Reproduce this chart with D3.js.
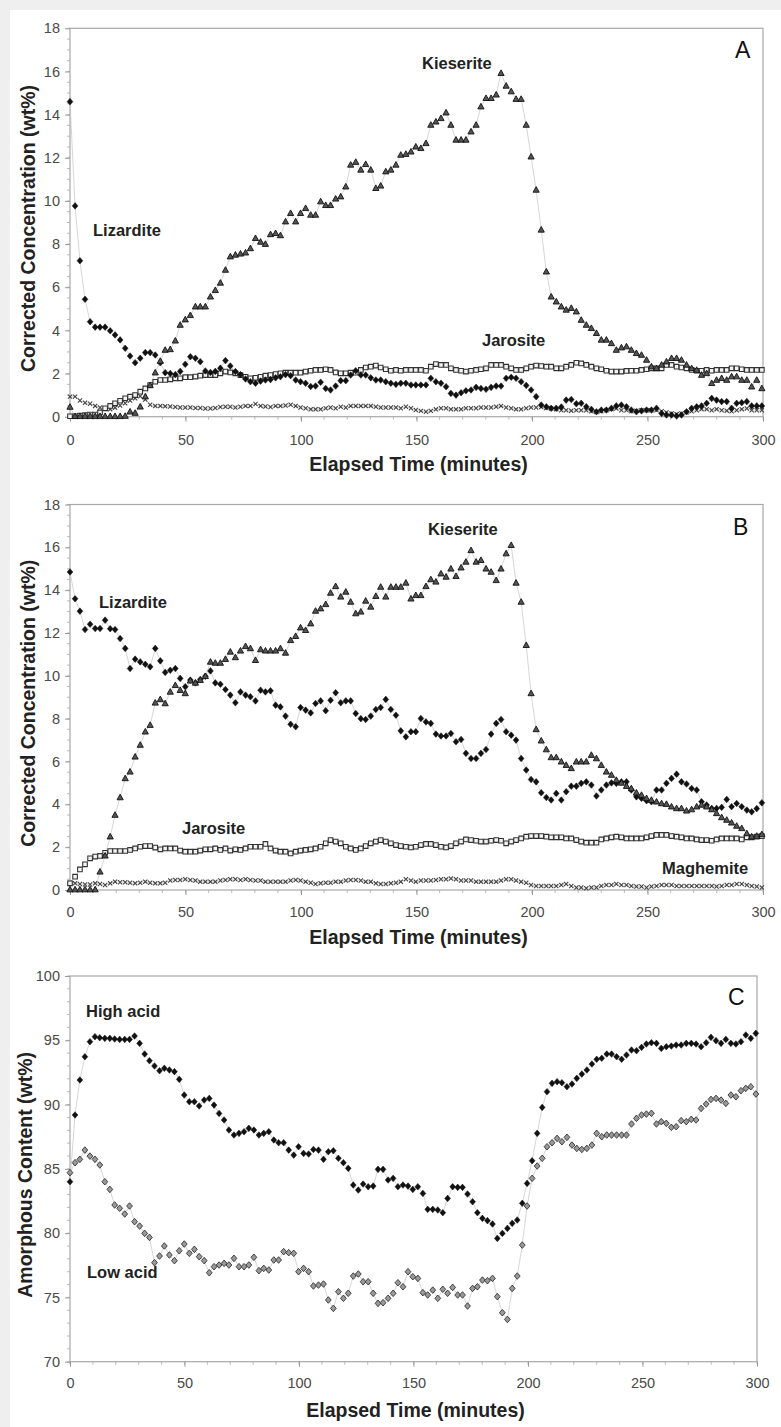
<!DOCTYPE html>
<html><head><meta charset="utf-8">
<script src="https://cdn.jsdelivr.net/npm/d3@7"></script>
<style>
body{margin:0;background:#efefef;}
svg{display:block;font-family:"Liberation Sans",Arial,sans-serif;}
</style>
</head><body>
<svg id="chart" width="781" height="1427"></svg>
<script>
// ---------------- DATA ----------------
const minutes = [0,2.2,4.3,6.5,8.7,10.9,13.0,15.2,17.4,19.5,21.7,23.9,26.0,28.2,30.4,32.6,34.7,36.9,39.1,41.2,
43.4,45.6,47.7,49.9,52.1,54.3,56.4,58.6,60.8,62.9,65.1,67.3,69.4,71.6,73.8,76.0,78.1,80.3,82.5,84.6,
86.8,89.0,91.1,93.3,95.5,97.7,99.8,102.0,104.2,106.3,108.5,110.7,112.8,115.0,117.2,119.4,121.5,123.7,125.9,128.0,
130.2,132.4,134.5,136.7,138.9,141.1,143.2,145.4,147.6,149.7,151.9,154.1,156.2,158.4,160.6,162.8,164.9,167.1,169.3,171.4,
173.6,175.8,177.9,180.1,182.3,184.5,186.6,188.8,191.0,193.1,195.3,197.5,199.6,201.8,204.0,206.2,208.3,210.5,212.7,214.8,
217.0,219.2,221.3,223.5,225.7,227.9,230.0,232.2,234.4,236.5,238.7,240.9,243.0,245.2,247.4,249.6,251.7,253.9,256.1,258.2,
260.4,262.6,264.7,266.9,269.1,271.3,273.4,275.6,277.8,279.9,282.1,284.3,286.4,288.6,290.8,293.0,295.1,297.3,299.5];

const xTickValues = [0,50,100,150,200,250,300];
const concTickValues = [0,2,4,6,8,10,12,14,16,18];
const amorphTickValues = [70,75,80,85,90,95,100];

// Panel A
const lizarditeA = [14.6,9.77,7.23,5.44,4.4,4.15,4.15,4.15,3.98,3.79,
3.56,3.17,2.81,2.5,2.71,2.97,2.97,2.86,2.5,2.04,
2.0,1.95,2.1,2.43,2.78,2.71,2.55,2.12,2.05,2.1,
2.25,2.6,2.35,2.09,1.95,1.75,1.62,1.55,1.65,1.7,
1.72,1.8,1.85,1.95,1.9,1.7,1.62,1.55,1.4,1.42,
1.6,1.31,1.24,1.42,1.67,1.67,1.93,2.13,1.93,1.93,
1.8,1.7,1.7,1.62,1.55,1.5,1.55,1.55,1.47,1.47,
1.47,1.47,1.78,1.62,1.55,1.39,1.08,1.0,1.11,1.2,
1.24,1.36,1.31,1.27,1.36,1.42,1.42,1.78,1.83,1.78,
1.62,1.45,1.24,0.93,0.54,0.46,0.39,0.39,0.45,0.77,
0.8,0.6,0.62,0.46,0.34,0.23,0.31,0.31,0.39,0.5,
0.54,0.46,0.31,0.23,0.27,0.31,0.31,0.39,0.15,0.08,
0.08,0.03,0.08,0.23,0.39,0.46,0.5,0.62,0.85,0.77,
0.7,0.7,0.39,0.62,0.65,0.7,0.5,0.5,0.5];
const kieseriteA = [0.45,0.02,0.02,0.02,0.02,0.02,0.02,0.02,0.02,0.02,
0.02,0.03,0.23,0.17,0.46,0.93,1.45,2.04,2.58,3.09,
3.12,3.52,4.25,4.5,4.7,5.1,5.1,5.1,5.56,5.86,
6.2,6.8,7.42,7.5,7.55,7.6,7.8,8.27,8.1,8.0,
8.45,8.5,8.4,9.04,9.43,9.04,9.43,9.66,9.35,9.35,
9.97,9.8,9.8,10.1,10.2,10.66,11.67,11.8,11.44,11.7,
11.44,10.59,10.7,11.36,11.44,11.67,12.13,12.17,12.28,12.51,
12.44,12.67,13.52,13.67,13.83,14.09,13.52,12.83,12.83,12.83,
13.21,13.52,14.37,14.76,14.76,14.92,15.92,15.33,15.07,14.72,
14.72,13.52,12.05,10.51,8.66,6.72,5.56,5.33,5.1,4.95,
5.03,4.87,4.48,4.25,4.1,3.87,3.56,3.56,3.40,3.09,
3.2,3.25,3.09,2.94,2.86,2.63,2.32,2.24,2.4,2.55,
2.71,2.71,2.63,2.4,2.24,2.16,1.93,2.01,1.55,1.7,
1.78,1.7,1.86,1.86,1.7,1.7,1.39,1.7,1.31];
const jarositeA = [0.02,0.02,0.05,0.07,0.1,0.1,0.2,0.39,0.5,0.62,
0.74,0.85,0.93,1.0,1.16,1.31,1.47,1.62,1.7,1.7,
1.73,1.78,1.78,1.83,1.83,1.86,1.9,1.93,1.93,1.93,
2.01,2.09,2.05,2.01,1.93,1.85,1.78,1.8,1.85,1.9,
1.93,1.98,2.01,2.04,2.04,2.04,2.04,2.09,2.13,2.17,
2.17,2.2,2.17,2.05,2.01,2.01,2.04,2.04,2.17,2.28,
2.32,2.37,2.28,2.2,2.13,2.17,2.13,2.17,2.17,2.17,
2.17,2.13,2.32,2.44,2.4,2.4,2.24,2.17,2.13,2.09,
2.13,2.17,2.2,2.24,2.4,2.4,2.4,2.32,2.24,2.17,
2.17,2.24,2.32,2.37,2.35,2.32,2.32,2.24,2.24,2.32,
2.4,2.5,2.47,2.4,2.32,2.24,2.2,2.13,2.09,2.09,
2.09,2.12,2.13,2.13,2.17,2.2,2.24,2.24,2.24,2.4,
2.4,2.32,2.28,2.24,2.17,2.13,2.13,2.17,2.13,2.17,
2.17,2.17,2.24,2.24,2.2,2.17,2.17,2.17,2.17];
const maghemiteA = [0.93,0.93,0.75,0.65,0.6,0.5,0.43,0.38,0.35,0.42,
0.52,0.62,0.75,0.85,0.95,0.8,0.55,0.5,0.5,0.48,
0.47,0.45,0.43,0.43,0.43,0.4,0.4,0.38,0.38,0.4,
0.45,0.46,0.46,0.43,0.46,0.5,0.5,0.59,0.5,0.47,
0.45,0.5,0.5,0.52,0.55,0.5,0.43,0.39,0.34,0.34,
0.34,0.39,0.43,0.39,0.46,0.43,0.5,0.5,0.5,0.5,
0.5,0.46,0.43,0.43,0.43,0.43,0.39,0.46,0.39,0.31,
0.27,0.23,0.27,0.34,0.39,0.39,0.34,0.34,0.34,0.39,
0.39,0.39,0.43,0.43,0.43,0.46,0.5,0.43,0.39,0.34,
0.34,0.39,0.43,0.43,0.45,0.4,0.38,0.35,0.3,0.3,
0.28,0.3,0.3,0.3,0.25,0.22,0.25,0.3,0.35,0.38,
0.3,0.3,0.25,0.28,0.3,0.3,0.3,0.3,0.25,0.2,
0.15,0.12,0.15,0.2,0.25,0.3,0.35,0.35,0.3,0.35,
0.3,0.28,0.25,0.3,0.35,0.38,0.3,0.3,0.3];

// Panel B
const lizarditeB = [14.85,13.6,13.02,12.16,12.41,12.21,12.21,12.6,12.2,12.16,
11.74,11.28,10.34,10.78,10.65,10.54,10.42,11.28,10.7,10.16,
10.26,10.34,9.88,9.49,9.8,9.67,9.83,9.98,10.23,9.67,
9.61,9.36,9.1,8.74,9.25,9.1,9.02,8.83,9.33,9.25,
9.3,8.63,8.55,8.12,7.74,7.62,8.52,8.4,8.27,8.71,
8.83,8.37,8.86,9.21,8.74,8.83,8.83,8.24,8.0,7.96,
8.12,8.43,8.52,8.9,8.43,8.16,7.43,7.15,7.39,7.39,
8.01,7.85,7.78,7.28,7.19,7.19,7.31,6.92,7.03,6.38,
6.14,6.14,6.38,6.56,7.28,7.78,7.96,7.39,7.23,7.0,
6.14,5.6,5.16,5.05,4.54,4.32,4.2,4.51,4.2,4.59,
4.85,4.85,4.98,5.05,4.9,4.39,4.67,4.9,5.0,4.98,
5.05,5.05,4.67,4.35,4.28,4.17,4.12,4.67,4.67,4.98,
5.21,5.41,5.05,4.95,4.74,4.67,4.12,3.97,3.81,3.81,
3.86,4.23,3.89,4.04,3.89,3.73,3.65,3.8,4.07];
const kieseriteB = [0.02,0.02,0.02,0.02,0.02,0.02,0.85,1.6,2.49,3.5,
4.32,5.21,5.52,6.22,6.77,7.39,7.7,8.74,8.9,8.71,
9.25,9.56,9.33,9.18,9.77,9.67,9.8,9.98,10.65,10.6,
10.6,10.78,11.12,10.86,11.17,11.38,11.28,10.73,11.23,11.17,
11.17,11.17,11.28,11.07,11.66,11.85,12.25,12.13,12.44,13.03,
13.14,13.34,13.87,14.18,13.69,13.92,13.45,12.91,12.99,13.5,
13.22,13.72,14.15,13.69,14.15,14.15,14.15,14.34,13.6,13.76,
13.76,14.18,14.5,14.39,14.77,14.62,15.0,14.65,15.05,15.32,
15.86,15.32,15.4,15.0,14.85,14.46,15.0,15.71,16.1,14.34,
13.45,11.43,9.18,7.5,6.97,6.56,6.19,6.19,5.99,5.83,
5.68,5.99,5.99,5.99,6.3,6.14,5.83,5.52,5.37,5.13,
5.0,4.85,4.74,4.54,4.43,4.28,4.2,4.12,4.04,4.01,
3.89,3.81,3.81,3.7,3.76,3.89,3.97,3.89,3.76,3.58,
3.39,3.27,3.14,2.99,2.88,2.64,2.49,2.52,2.6];
const jarositeB = [0.31,0.62,0.96,1.2,1.48,1.56,1.59,1.74,1.82,1.82,
1.82,1.82,1.87,1.94,2.02,2.05,2.05,1.98,1.9,1.94,
1.94,1.94,1.84,1.79,1.79,1.79,1.84,1.9,1.9,1.94,
1.87,1.94,1.84,1.9,1.87,1.94,2.02,2.02,2.02,2.15,
1.94,1.84,1.79,1.79,1.71,1.79,1.84,1.87,1.9,1.94,
2.02,2.18,2.33,2.26,2.18,2.02,1.94,1.87,1.94,2.05,
2.18,2.26,2.33,2.26,2.18,2.1,2.05,2.02,1.99,2.02,
2.1,2.15,2.15,2.1,2.02,1.99,2.05,2.18,2.26,2.36,
2.33,2.3,2.26,2.26,2.3,2.33,2.3,2.18,2.26,2.33,
2.41,2.49,2.52,2.52,2.52,2.49,2.46,2.46,2.46,2.41,
2.41,2.33,2.26,2.21,2.21,2.21,2.36,2.41,2.46,2.49,
2.46,2.41,2.41,2.41,2.41,2.46,2.52,2.57,2.57,2.57,
2.52,2.49,2.46,2.41,2.41,2.36,2.33,2.33,2.3,2.36,
2.41,2.41,2.41,2.41,2.36,2.46,2.46,2.49,2.52];
const maghemiteB = [0.34,0.31,0.28,0.26,0.26,0.31,0.28,0.23,0.31,0.39,
0.36,0.36,0.34,0.31,0.34,0.39,0.34,0.31,0.31,0.34,
0.44,0.47,0.47,0.5,0.47,0.44,0.39,0.39,0.39,0.39,
0.44,0.47,0.5,0.5,0.47,0.5,0.47,0.44,0.44,0.39,
0.39,0.39,0.39,0.39,0.44,0.47,0.44,0.39,0.34,0.28,
0.31,0.34,0.34,0.39,0.39,0.44,0.47,0.47,0.44,0.39,
0.39,0.31,0.28,0.28,0.31,0.34,0.39,0.5,0.44,0.39,
0.44,0.44,0.44,0.47,0.5,0.5,0.54,0.5,0.44,0.44,
0.44,0.39,0.39,0.39,0.39,0.39,0.44,0.5,0.5,0.44,
0.39,0.34,0.23,0.19,0.19,0.19,0.19,0.19,0.23,0.28,
0.19,0.12,0.12,0.08,0.12,0.12,0.19,0.23,0.23,0.28,
0.23,0.23,0.19,0.16,0.16,0.12,0.16,0.19,0.23,0.23,
0.23,0.19,0.19,0.19,0.19,0.19,0.19,0.19,0.19,0.16,
0.19,0.23,0.23,0.28,0.28,0.23,0.19,0.16,0.12];

// Panel C
const highAcid = [84.0,89.19,91.91,93.72,94.89,95.28,95.2,95.15,95.15,95.1,
95.07,95.07,95.07,95.33,94.76,93.93,93.41,93.0,92.63,92.82,
92.69,92.56,91.96,90.74,90.22,90.22,89.89,90.35,90.48,89.96,
89.31,88.8,88.02,87.63,87.76,87.89,88.15,88.02,87.63,87.76,
87.89,87.24,87.03,87.03,86.46,86.07,86.72,86.2,86.15,86.51,
86.46,85.74,86.33,86.41,85.82,85.48,85.04,83.74,83.35,83.82,
83.61,83.66,84.96,84.96,84.13,84.26,83.61,83.74,83.66,83.4,
83.61,83.09,81.85,81.85,81.8,81.59,82.7,83.61,83.56,83.56,
83.04,82.44,81.59,81.15,80.97,80.71,79.59,79.98,80.37,80.76,
81.02,82.32,83.87,85.63,87.76,89.78,91.0,91.65,91.78,91.7,
91.39,91.6,92.04,92.37,92.69,93.15,93.52,93.6,93.93,93.93,
93.72,93.52,93.85,94.24,94.19,94.45,94.71,94.81,94.76,94.37,
94.5,94.55,94.63,94.63,94.76,94.76,94.71,94.5,94.81,95.23,
94.97,94.76,95.07,94.76,94.71,94.89,95.41,95.15,95.54];
const lowAcid = [84.7,85.48,85.74,86.46,85.99,85.74,85.3,84.0,83.4,82.19,
81.93,81.49,82.11,80.89,80.55,79.98,79.67,77.7,78.22,79.0,
78.3,77.86,78.63,79.15,78.43,78.74,78.17,77.86,76.92,77.39,
77.52,77.65,77.52,78.04,77.39,77.39,77.52,78.12,77.08,77.26,
77.13,77.91,77.91,78.56,78.48,78.43,77.0,77.26,77.0,75.89,
75.96,76.04,74.8,74.15,75.44,74.93,75.32,76.66,76.82,76.22,
76.22,75.32,74.54,74.59,74.93,75.32,76.14,75.83,77.0,76.61,
76.48,75.37,75.19,75.57,74.93,75.63,75.32,75.78,75.19,75.19,
74.33,75.7,75.83,76.35,76.3,76.48,75.06,73.81,73.29,75.7,
76.66,79.07,82.11,84.26,85.22,85.82,86.72,87.03,87.37,87.11,
87.45,86.85,86.59,86.51,86.59,86.85,87.76,87.5,87.63,87.63,
87.63,87.63,87.63,88.49,88.93,89.19,89.26,89.32,88.49,88.67,
88.54,88.23,88.28,88.75,88.67,88.85,88.8,89.7,90.04,90.4,
90.48,90.35,90.09,90.74,90.61,91.08,91.26,91.39,90.82];

// ---------------- DRAWING ----------------
const svg = d3.select("#chart");
svg.append("rect").attr("x",10).attr("y",10).attr("width",771).attr("height",1417).attr("fill","#fff");

const MARK = {
  diamond: {path:"M0,-3.3L2.9,0L0,3.3L-2.9,0Z", fill:"#111", stroke:"#111", sw:0.5},
  triangle:{path:"M0,-3.3L3.1,2.3L-3.1,2.3Z", fill:"#555", stroke:"#111", sw:0.9},
  square:  {path:"M-2.3,-2.3h4.6v4.6h-4.6Z", fill:"#f4f4f4", stroke:"#333", sw:1.1},
  cross:   {path:"M-2.1,-2.1L2.1,2.1M-2.1,2.1L2.1,-2.1", fill:"none", stroke:"#444", sw:1.1},
  odiamond:{path:"M0,-3.3L2.9,0L0,3.3L-2.9,0Z", fill:"#999", stroke:"#222", sw:0.8}
};

const panels = [
  {left:70,right:763,top:28.3,bottom:416.7,domain:[0,18],ticks:concTickValues,minor:0.5,
   yTitle:"Corrected Concentration (wt%)",yTitleX:28,tickLabelY:445,xTitleY:471,
   letter:"A",letterPos:[735,58],
   series:[{v:maghemiteA,m:"cross"},{v:jarositeA,m:"square"},{v:lizarditeA,m:"diamond"},{v:kieseriteA,m:"triangle"}],
   labels:[["Lizardite",93,236],["Kieserite",422,69],["Jarosite",482,346]]},
  {left:70,right:763,top:504.5,bottom:890,domain:[0,18],ticks:concTickValues,minor:0.5,
   yTitle:"Corrected Concentration (wt%)",yTitleX:28,tickLabelY:917,xTitleY:944,
   letter:"B",letterPos:[733,535],
   series:[{v:maghemiteB,m:"cross"},{v:jarositeB,m:"square"},{v:lizarditeB,m:"diamond"},{v:kieseriteB,m:"triangle"}],
   labels:[["Lizardite",99,608],["Kieserite",428,535],["Jarosite",182,834],["Maghemite",662,874]]},
  {left:70,right:757,top:976,bottom:1361.7,domain:[70,100],ticks:amorphTickValues,minor:1,
   yTitle:"Amorphous Content (wt%)",yTitleX:25,tickLabelY:1388,xTitleY:1417,
   letter:"C",letterPos:[728,1005],
   series:[{v:lowAcid,m:"odiamond"},{v:highAcid,m:"diamond"}],
   labels:[["High acid",86,1017],["Low acid",87,1278]]}
];

panels.forEach(p => {
  const x = d3.scaleLinear().domain([0,300]).range([p.left,p.right]);
  const y = d3.scaleLinear().domain(p.domain).range([p.bottom,p.top]);
  const g = svg.append("g");

  g.append("rect").attr("x",p.left).attr("y",p.top)
   .attr("width",p.right-p.left).attr("height",p.bottom-p.top)
   .attr("fill","none").attr("stroke","#a8a8a8").attr("stroke-width",1.2);

  const minorY = d3.range(p.domain[0], p.domain[1]+1e-9, p.minor);
  g.selectAll(".my").data(minorY).join("line")
   .attr("x1",p.left-3).attr("x2",p.left).attr("y1",d=>y(d)).attr("y2",d=>y(d))
   .attr("stroke","#aaa").attr("stroke-width",0.8);
  const minorX = d3.range(0,301,10);
  g.selectAll(".mx").data(minorX).join("line")
   .attr("x1",d=>x(d)).attr("x2",d=>x(d)).attr("y1",p.bottom).attr("y2",p.bottom+3)
   .attr("stroke","#aaa").attr("stroke-width",0.8);

  const ya = d3.axisLeft(y).tickValues(p.ticks).tickSize(5).tickPadding(5);
  const yg = g.append("g").attr("transform",`translate(${p.left},0)`).call(ya);
  const xa = d3.axisBottom(x).tickValues(xTickValues).tickSize(5).tickPadding(4);
  const xg = g.append("g").attr("transform",`translate(0,${p.bottom})`).call(xa);
  [yg,xg].forEach(ag=>{
    ag.select(".domain").remove();
    ag.selectAll(".tick line").attr("stroke","#999");
    ag.selectAll(".tick text").attr("fill","#4a4a4a").style("font-size","14.5px")
      .style("font-family","'Liberation Sans',Arial,sans-serif");
  });
  xg.selectAll(".tick text").attr("dy",null).attr("y",null)
    .attr("transform",`translate(0,${p.tickLabelY-p.bottom})`);

  g.append("text").attr("x",(p.left+p.right)/2+2).attr("y",p.xTitleY)
   .attr("text-anchor","middle").attr("font-weight","bold").attr("font-size","19.5px")
   .attr("fill","#222").text("Elapsed Time (minutes)");
  g.append("text").attr("transform",`translate(${p.yTitleX},${(p.top+p.bottom)/2+6}) rotate(-90)`)
   .attr("text-anchor","middle").attr("dominant-baseline","central")
   .attr("font-weight","bold").attr("font-size","19.5px").attr("fill","#222").text(p.yTitle);

  const line = d3.line().x((d,i)=>x(minutes[i])).y(d=>y(d));
  p.series.forEach(s=>{
    g.append("path").attr("d",line(s.v)).attr("fill","none")
     .attr("stroke","#c4c4c4").attr("stroke-width",0.7);
  });
  p.series.forEach(s=>{
    const mk = MARK[s.m];
    g.selectAll(null).data(s.v).join("path")
     .attr("transform",(d,i)=>`translate(${x(minutes[i])},${y(d)})`)
     .attr("d",mk.path).attr("fill",mk.fill).attr("stroke",mk.stroke).attr("stroke-width",mk.sw);
  });

  p.labels.forEach(([t,lx,ly])=>{
    g.append("text").attr("x",lx).attr("y",ly).attr("font-weight","bold")
     .attr("font-size","16.5px").attr("fill","#222").text(t);
  });
  g.append("text").attr("x",p.letterPos[0]).attr("y",p.letterPos[1])
   .attr("font-size","23px").attr("fill","#111").text(p.letter);
});
</script>
</body></html>
